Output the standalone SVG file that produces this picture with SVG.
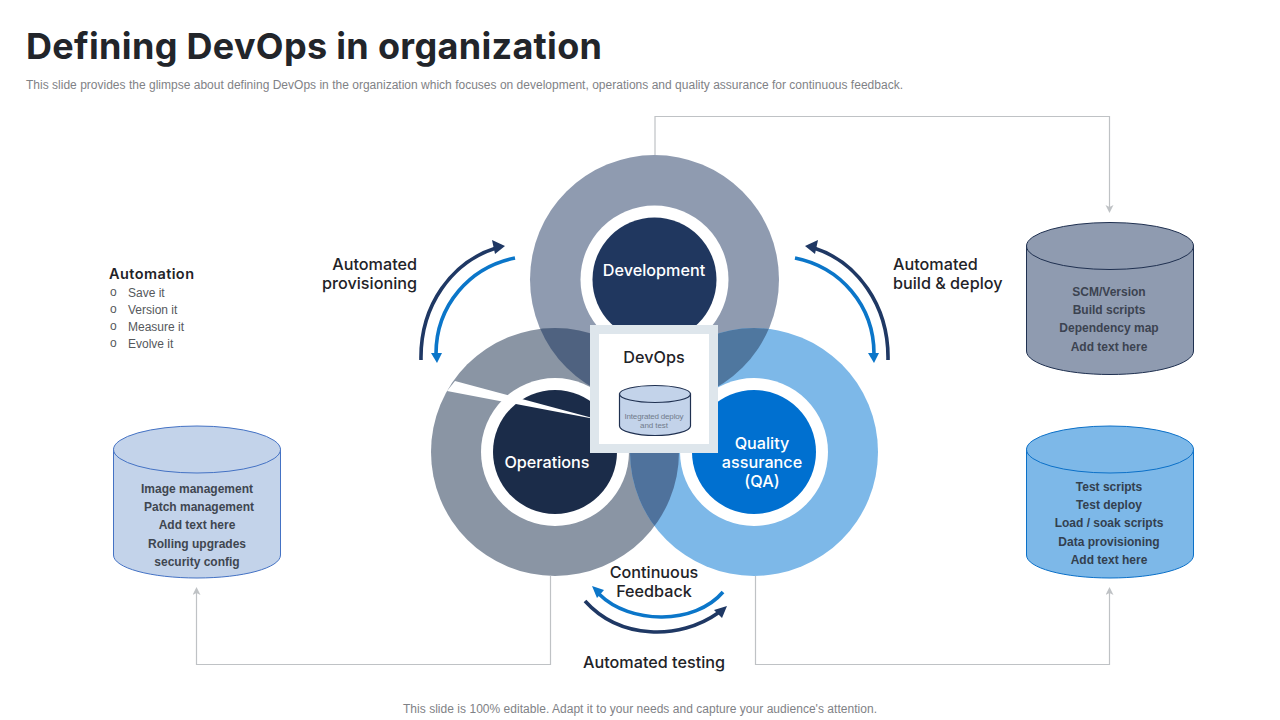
<svg xmlns="http://www.w3.org/2000/svg" width="1280" height="720" viewBox="0 0 1280 720">
<style>
text{font-family:"Inter","Liberation Sans",sans-serif}
.lab{font-size:16.2px;font-weight:500;fill:#1f2328;text-anchor:middle}
.in{font-size:16.2px;font-weight:500;fill:#fff;text-anchor:middle}
.cy{font-family:"Liberation Sans",Arial,sans-serif;font-size:12px;font-weight:700;text-anchor:middle}
.li{font-family:"Liberation Sans",Arial,sans-serif;font-size:12px;fill:#55585c}
.note{font-family:"Liberation Sans",Arial,sans-serif;font-size:12px;fill:#7f8286}
.tiny{font-family:"Liberation Sans",Arial,sans-serif;font-size:8px;fill:#717b8b;text-anchor:middle}
.conn{fill:none;stroke:#bfc2c5;stroke-width:1.2}
.arrD{fill:none;stroke:#1f3864;stroke-width:3.600}
.arrB{fill:none;stroke:#0b76c9;stroke-width:3.600}
</style>
<defs>
<marker id="ag" markerWidth="8" markerHeight="10" refX="6" refY="4" orient="auto" markerUnits="userSpaceOnUse"><path d="M0 0L8 4L0 8L2 4Z" fill="#bfc2c5"/></marker>
<clipPath id="cOps"><circle cx="555" cy="452" r="124"/></clipPath>
<clipPath id="cQa"><circle cx="754" cy="452" r="124"/></clipPath>
</defs>
<rect width="1280" height="720" fill="#fff"/>
<text x="26" y="59" font-size="36" font-weight="700" fill="#22252a" textLength="576" lengthAdjust="spacing">Defining DevOps in organization</text>
<text class="note" x="26" y="89" textLength="877" lengthAdjust="spacing">This slide provides the glimpse about defining DevOps in the organization which focuses on development, operations and quality assurance for continuous feedback.</text>
<g id="connectors">
<path class="conn" d="M655 155V116.500H1109.500V211" marker-end="url(#ag)"/>
<path class="conn" d="M550.500 576V664.500H196.500V589" marker-end="url(#ag)"/>
<path class="conn" d="M755.500 576V664.500H1109.500V589" marker-end="url(#ag)"/>
</g>
<g id="venn">
<circle cx="654.500" cy="279.500" r="124.500" fill="#8f9bb0"/>
<circle cx="555" cy="452" r="124" fill="#8a95a4"/>
<circle cx="754" cy="452" r="124" fill="#7db8e8"/>
<circle cx="654.500" cy="279.500" r="124.500" fill="#4f6280" clip-path="url(#cOps)"/>
<circle cx="654.500" cy="279.500" r="124.500" fill="#4f779f" clip-path="url(#cQa)"/>
<circle cx="555" cy="452" r="124" fill="#4f729c" clip-path="url(#cQa)"/>
</g>
<g id="development"><circle cx="654.500" cy="279.500" r="74" fill="#fff"/><circle cx="654.500" cy="279.500" r="62" fill="#20375f"/><text class="in" x="654" y="276">Development</text></g>
<g id="operations"><circle cx="555" cy="452" r="74" fill="#fff"/><circle cx="555" cy="452" r="62" fill="#1b2c49"/><text class="in" x="547" y="468">Operations</text></g>
<g id="qa"><circle cx="754" cy="452" r="74" fill="#fff"/><circle cx="754" cy="452" r="62" fill="#0070d0"/><text class="in" x="762" y="449">Quality</text><text class="in" x="762" y="468">assurance</text><text class="in" x="762" y="487">(QA)</text></g>
<polygon points="455,381 447,391 600,420" fill="#fff"/>
<g id="devops">
<rect x="590" y="325" width="128" height="128" fill="#dee6ec"/>
<rect x="599" y="334" width="110" height="110" fill="#fff"/>
<text class="lab" x="654" y="363">DevOps</text>
<path d="M619.500 394V426C619.500 431 636 435.500 655 435.500S690.500 431 690.500 426V394Z" fill="#c3d3ea" stroke="#1f3050" stroke-width="1.200"/>
<ellipse cx="655" cy="394" rx="35.500" ry="8.500" fill="#c3d3ea" stroke="#1f3050" stroke-width="1.200"/>
<text class="tiny" x="654" y="419" textLength="59" lengthAdjust="spacing">Integrated  deploy</text>
<text class="tiny" x="654" y="428" textLength="28" lengthAdjust="spacing">and  test</text>
</g>
<g id="arrows">
<path class="arrD" d="M421 360C420 305 452 262 496 248"/><path d="M505 246L492 240L495 254Z" fill="#1f3864"/>
<path class="arrB" d="M515 258C470 267 436 305 436 354"/><path d="M431 353H442L437 363Z" fill="#0b76c9"/>
<path class="arrD" d="M888 360C889 305 857 262 814 248"/><path d="M805 246L818 240L815 254Z" fill="#1f3864"/>
<path class="arrB" d="M795 258C840 267 874 305 874 354"/><path d="M868 353H879L874 363Z" fill="#0b76c9"/>
<path class="arrB" d="M723 592C695 625 630 625 599 594"/><path d="M592 586L604 590L597 598Z" fill="#0b76c9"/>
<path class="arrD" d="M585 601C620 640 680 640 718 613"/><path d="M727 606L714 610L722 618Z" fill="#1f3864"/>
</g>
<g id="labels">
<text class="lab" x="417" y="270" style="text-anchor:end">Automated</text>
<text class="lab" x="417" y="289" style="text-anchor:end">provisioning</text>
<text class="lab" x="893" y="270" style="text-anchor:start">Automated</text>
<text class="lab" x="893" y="289" style="text-anchor:start">build &amp; deploy</text>
<text class="lab" x="654" y="578">Continuous</text>
<text class="lab" x="654" y="597">Feedback</text>
<text class="lab" x="654" y="668">Automated testing</text>
</g>
<g id="automation">
<text x="109" y="279" font-size="14.500" font-weight="600" fill="#1f2328" textLength="85" lengthAdjust="spacing">Automation</text>
<text class="li" x="110" y="296">o</text><text class="li" x="110" y="313">o</text><text class="li" x="110" y="330">o</text><text class="li" x="110" y="347">o</text>
<text class="li" x="128" y="297">Save  it</text><text class="li" x="128" y="314">Version it</text><text class="li" x="128" y="331">Measure it</text><text class="li" x="128" y="348">Evolve  it</text>
</g>
<g id="cyl-left">
<path d="M113.500 449V555C113.500 568 151 578 197 578S280.500 568 280.500 555V449Z" fill="#c3d3ea" stroke="#4472c4" stroke-width="1"/>
<ellipse cx="197" cy="449.500" rx="83.500" ry="23.500" fill="#c3d3ea" stroke="#4472c4" stroke-width="1"/>
<g fill="#3f4650"><text class="cy" x="197" y="493">Image management</text><text class="cy" x="199" y="511">Patch management</text><text class="cy" x="197" y="529">Add  text here</text><text class="cy" x="197" y="548">Rolling  upgrades</text><text class="cy" x="197" y="566">security config</text></g>
</g>
<g id="cyl-top">
<path d="M1026.500 246V351C1026.500 364 1064 374.500 1110 374.500S1193.500 364 1193.500 351V246Z" fill="#8f9bb0" stroke="#1f3050" stroke-width="1"/>
<ellipse cx="1110" cy="246" rx="83.500" ry="23.500" fill="#8f9bb0" stroke="#1f3050" stroke-width="1"/>
<g fill="#3c4350"><text class="cy" x="1109" y="296">SCM/Version</text><text class="cy" x="1109" y="314">Build  scripts</text><text class="cy" x="1109" y="332">Dependency  map</text><text class="cy" x="1109" y="351">Add  text here</text></g>
</g>
<g id="cyl-bottom">
<path d="M1026.500 449V555C1026.500 568 1064 578 1110 578S1193.500 568 1193.500 555V449Z" fill="#7db8e8" stroke="#0b70c8" stroke-width="1"/>
<ellipse cx="1110" cy="449.500" rx="83.500" ry="23.500" fill="#7db8e8" stroke="#0b70c8" stroke-width="1"/>
<g fill="#33404f"><text class="cy" x="1109" y="491">Test scripts</text><text class="cy" x="1109" y="509">Test deploy</text><text class="cy" x="1109" y="527">Load / soak scripts</text><text class="cy" x="1109" y="546">Data provisioning</text><text class="cy" x="1109" y="564">Add  text here</text></g>
</g>
<text class="note" x="640" y="713" text-anchor="middle" textLength="474" lengthAdjust="spacing">This slide is 100% editable. Adapt it to your needs and capture your audience's attention.</text>
</svg>
